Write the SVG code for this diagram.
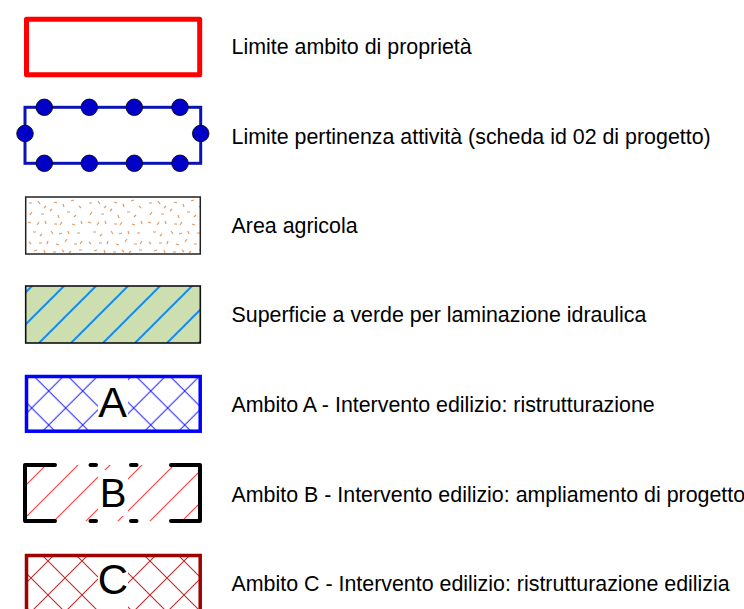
<svg xmlns="http://www.w3.org/2000/svg" width="744" height="609" viewBox="0 0 744 609">
<defs>
<pattern id="speck" patternUnits="userSpaceOnUse" x="26" y="198" width="60" height="57">
<path d="M3,5 l3,0 M12,3 l2,3 M20,8 l-2,2 M28,4 l3,1 M37,6 l1,3 M45,3 l3,-1 M53,8 l2,2 M6,14 l-2,3 M15,16 l3,0 M24,13 l2,-2 M32,17 l1,3 M41,14 l3,0 M50,17 l-2,2 M2,24 l3,1 M11,27 l2,-3 M19,23 l1,3 M28,26 l3,0 M36,24 l-2,3 M46,26 l3,1 M55,23 l1,3 M7,34 l3,0 M16,36 l-2,2 M25,33 l2,3 M33,36 l3,-1 M42,33 l1,3 M51,35 l3,0 M3,44 l2,2 M13,45 l3,0 M22,43 l-1,3 M30,46 l3,1 M39,44 l2,-3 M48,46 l3,0 M56,43 l-2,3 M8,53 l3,-1 M18,52 l1,3 M27,54 l3,0 M36,52 l2,2 M45,53 l-2,2 M53,52 l3,0" stroke="#dc9a68" stroke-width="1.2" fill="none"/>
</pattern>
<pattern id="green" patternUnits="userSpaceOnUse" x="30" y="0" width="32" height="32">
<rect width="32" height="32" fill="#cddfaf"/>
<path d="M-8,40 L40,-8 M-8,8 L8,-8 M24,40 L40,24" stroke="#1a8cf0" stroke-width="2"/>
</pattern>
<pattern id="xblue" patternUnits="userSpaceOnUse" x="31.7" y="408" width="34" height="34">
<path d="M0,0 L34,34 M34,0 L0,34" stroke="#2a2aff" stroke-width="1.1"/>
</pattern>
<pattern id="xred" patternUnits="userSpaceOnUse" x="31" y="578" width="34" height="34">
<path d="M0,0 L34,34 M34,0 L0,34" stroke="#c02a2a" stroke-width="1.1"/>
</pattern>
<pattern id="sred" patternUnits="userSpaceOnUse" x="31" y="0" width="32" height="32">
<path d="M-8,40 L40,-8 M-8,8 L8,-8 M24,40 L40,24" stroke="#ff3c3c" stroke-width="1.1"/>
</pattern>
<style>
.lbl{font-family:"Liberation Sans",Arial,sans-serif;font-size:21.4px;fill:#000}
.big{font-family:"Liberation Sans",Arial,sans-serif;fill:#000;text-anchor:middle}
.dot{fill:#0000c8;stroke:#000;stroke-width:0.8}
</style>
</defs>

<g id="legend-proprieta">
<rect x="26.5" y="19.2" width="173.2" height="55.6" fill="#fff" stroke="#ff0000" stroke-width="5" stroke-linejoin="round"/>
<text class="lbl" x="231.5" y="54">Limite ambito di proprietà</text>
</g>

<g id="legend-pertinenza">
<rect x="25" y="107.3" width="175.7" height="56" fill="none" stroke="#0a14b4" stroke-width="3"/>
<circle class="dot" cx="44.3" cy="107.3" r="8.3"/>
<circle class="dot" cx="89.3" cy="107.3" r="8.3"/>
<circle class="dot" cx="134.3" cy="107.3" r="8.3"/>
<circle class="dot" cx="180" cy="107.3" r="8.3"/>
<circle class="dot" cx="44.3" cy="163.3" r="8.3"/>
<circle class="dot" cx="89.3" cy="163.3" r="8.3"/>
<circle class="dot" cx="134.3" cy="163.3" r="8.3"/>
<circle class="dot" cx="180" cy="163.3" r="8.3"/>
<circle class="dot" cx="25" cy="133.5" r="8.3"/>
<circle class="dot" cx="200.7" cy="133.5" r="8.3"/>
<text class="lbl" x="231.5" y="144">Limite pertinenza attività (scheda id 02 di progetto)</text>
</g>

<g id="legend-agricola">
<rect x="25.7" y="197" width="174.6" height="57" fill="#fff"/>
<rect x="25.7" y="197" width="174.6" height="57" fill="url(#speck)" stroke="#222" stroke-width="1.5"/>
<text class="lbl" x="231.5" y="233">Area agricola</text>
</g>

<g id="legend-verde">
<rect x="25.7" y="286" width="174.6" height="57" fill="url(#green)" stroke="#111" stroke-width="1.6"/>
<text class="lbl" x="231.5" y="322">Superficie a verde per laminazione idraulica</text>
</g>

<g id="legend-ambito-a">
<rect x="26.5" y="376.5" width="173.7" height="54.7" fill="url(#xblue)"/>
<rect x="98" y="378" width="30" height="52" fill="#fff"/>
<rect x="26.5" y="376.5" width="173.7" height="54.7" fill="none" stroke="#0000ff" stroke-width="3.5"/>
<text class="big" x="112.5" y="416.7" font-size="43">A</text>
<text class="lbl" x="231.5" y="412">Ambito A - Intervento edilizio: ristrutturazione</text>
</g>

<g id="legend-ambito-b">
<rect x="25" y="465" width="175" height="56" fill="url(#sred)"/>
<rect x="98" y="470" width="30" height="46" fill="#fff"/>
<path d="M55,465 H25 V521 H55 M171,465 H200 V521 H171 M90.5,465 H96 M131,465 H136.5 M90.5,521 H96 M131,521 H136.5" fill="none" stroke="#000" stroke-width="4" stroke-linecap="round" stroke-linejoin="round"/>
<text class="big" x="113" y="506.5" font-size="40">B</text>
<text class="lbl" x="231.5" y="502">Ambito B - Intervento edilizio: ampliamento di progetto</text>
</g>

<g id="legend-ambito-c">
<rect x="26.5" y="555.5" width="173.7" height="60" fill="url(#xred)"/>
<rect x="98" y="557" width="30" height="52" fill="#fff"/>
<rect x="26.5" y="555.5" width="173.7" height="60" fill="none" stroke="#a00000" stroke-width="3.5"/>
<text class="big" x="113" y="594" font-size="42">C</text>
<text class="lbl" x="231.5" y="591">Ambito C - Intervento edilizio: ristrutturazione edilizia</text>
</g>

<g id="connectors"/>
</svg>
